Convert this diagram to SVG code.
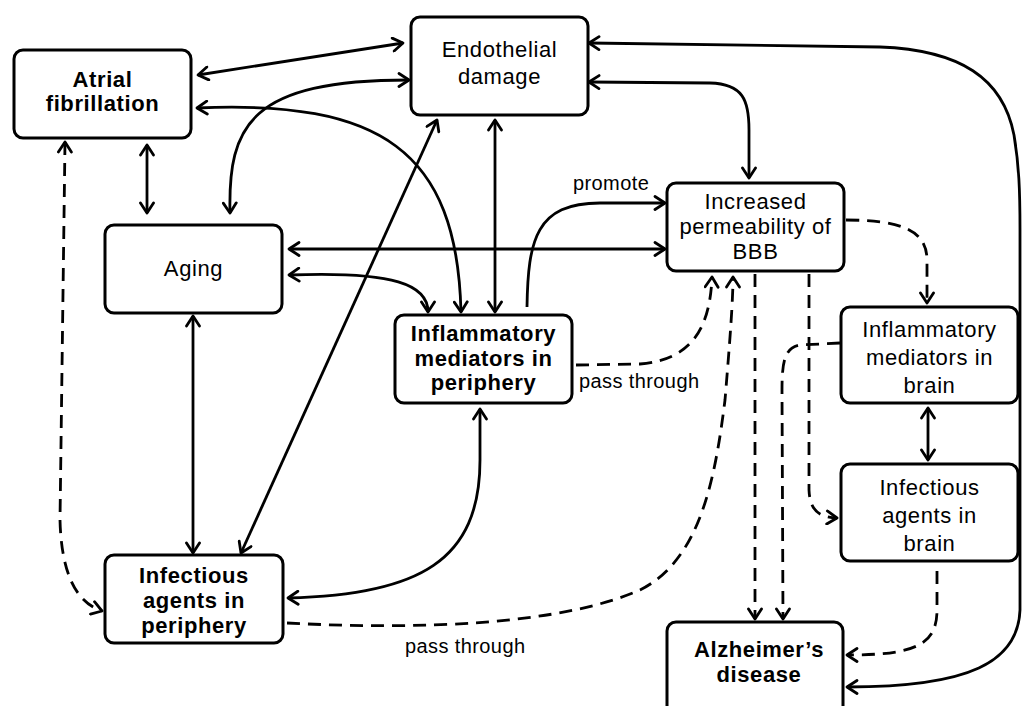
<svg xmlns="http://www.w3.org/2000/svg" width="1022" height="706" viewBox="0 0 1022 706">
<style>
.box{fill:#fff;stroke:#000;stroke-width:3}
.t{font-family:"Liberation Sans",Arial,sans-serif;font-size:22px;letter-spacing:0.6px;text-anchor:middle;fill:#000}
.b{font-weight:bold}
.lbl{font-family:"Liberation Sans",Arial,sans-serif;font-size:20px;letter-spacing:0.4px;fill:#000}
.c{fill:none;stroke:#000;stroke-width:2.8}
.d{stroke-dasharray:13 8}
.two{marker-start:url(#ah);marker-end:url(#ah)}
.one{marker-end:url(#ah)}
</style>
<defs>
<marker id="ah" markerUnits="userSpaceOnUse" markerWidth="14" markerHeight="16" viewBox="0 0 14 16" refX="12" refY="8" orient="auto-start-reverse">
<path d="M2,1.5 L12,8 L2,14.5" fill="none" stroke="#000" stroke-width="2.8" stroke-dasharray="none" stroke-linecap="round" stroke-linejoin="round"/>
</marker>
</defs>
<rect width="1022" height="706" fill="#fff"/>
<g id="connectors">
<path class="c two" d="M198,75 L403,43"/>
<path class="c two" d="M230,213 C228,125 250,80 409,80"/>
<path class="c two" d="M197,108 C380,100 457,150 461,312"/>
<path class="c two" d="M147,145 L147,213"/>
<path class="c d two" d="M65,142 L60,520 Q62,598 102,611"/>
<path class="c two" d="M193,316 L193,553"/>
<path class="c two" d="M241,553 L437,120"/>
<path class="c two" d="M495,120 L495,312"/>
<path class="c two" d="M289,249 L665,249"/>
<path class="c two" d="M289,275 C395,271 428,285 428,312"/>
<path class="c one" d="M527,307 C528,240 536,203 600,203 L665,203"/>
<path class="c two" d="M589,82 L710,83 C743,84 749,100 749,130 L749,178"/>
<path class="c two" d="M589,43 L880,47 C960,50 1003,78 1014,135 C1019,165 1020,190 1020,230 L1020,610 C1018,662 970,687 847,687"/>
<path class="c d one" d="M576,365 L640,364 C690,360 710,330 712,277"/>
<path class="c d one" d="M287,623 C420,630 560,625 640,590 C700,560 715,480 725,400 C730,340 733,300 733,277"/>
<path class="c d one" d="M755,274 L755,619"/>
<path class="c d one" d="M809,274 L809,490 C810,510 818,517 837,518"/>
<path class="c d one" d="M840,343 L800,345 C785,348 782,360 782,390 L783,619"/>
<path class="c d one" d="M846,220 C900,220 927,230 927,260 L927,303"/>
<path class="c two" d="M928,408 L928,460"/>
<path class="c d one" d="M937,571 L937,610 C937,645 915,655 847,655"/>
<path class="c two" d="M480,409 L480,460 C480,560 420,595 288,598"/>
</g>
<g id="atrial">
<rect class="box" x="14" y="50" width="177" height="88" rx="9"/>
<text class="t b" x="102.5" y="87">Atrial</text>
<text class="t b" x="102.5" y="111">fibrillation</text>
</g>
<g id="endothelial">
<rect class="box" x="411" y="17" width="177" height="98" rx="9"/>
<text class="t" x="499.5" y="57">Endothelial</text>
<text class="t" x="499.5" y="84">damage</text>
</g>
<g id="aging">
<rect class="box" x="105" y="225" width="177" height="88" rx="9"/>
<text class="t" x="193.5" y="276">Aging</text>
</g>
<g id="infl-periphery">
<rect class="box" x="395" y="315" width="177" height="88" rx="9"/>
<text class="t b" x="483.5" y="341">Inflammatory</text>
<text class="t b" x="483.5" y="366">mediators in</text>
<text class="t b" x="483.5" y="390">periphery</text>
</g>
<g id="bbb">
<rect class="box" x="667" y="183" width="177" height="88" rx="9"/>
<text class="t" x="755.5" y="209">Increased</text>
<text class="t" x="755.5" y="234">permeability of</text>
<text class="t" x="755.5" y="259">BBB</text>
</g>
<g id="infl-brain">
<rect class="box" x="841" y="307" width="177" height="96" rx="9"/>
<text class="t" x="929.5" y="337">Inflammatory</text>
<text class="t" x="929.5" y="365">mediators in</text>
<text class="t" x="929.5" y="393">brain</text>
</g>
<g id="inf-brain">
<rect class="box" x="841" y="464" width="177" height="97" rx="9"/>
<text class="t" x="929.5" y="495">Infectious</text>
<text class="t" x="929.5" y="523">agents in</text>
<text class="t" x="929.5" y="551">brain</text>
</g>
<g id="alzheimer">
<rect class="box" x="667" y="622" width="176" height="94" rx="9"/>
<text class="t b" x="759" y="657">Alzheimer’s</text>
<text class="t b" x="759" y="682">disease</text>
</g>
<g id="inf-periphery">
<rect class="box" x="105" y="555" width="178" height="88" rx="9"/>
<text class="t b" x="194" y="583">Infectious</text>
<text class="t b" x="194" y="608">agents in</text>
<text class="t b" x="194" y="633">periphery</text>
</g>
<g id="labels">
<text class="lbl" x="573" y="190">promote</text>
<text class="lbl" x="579" y="388">pass through</text>
<text class="lbl" x="405" y="653">pass through</text>
</g>
</svg>
